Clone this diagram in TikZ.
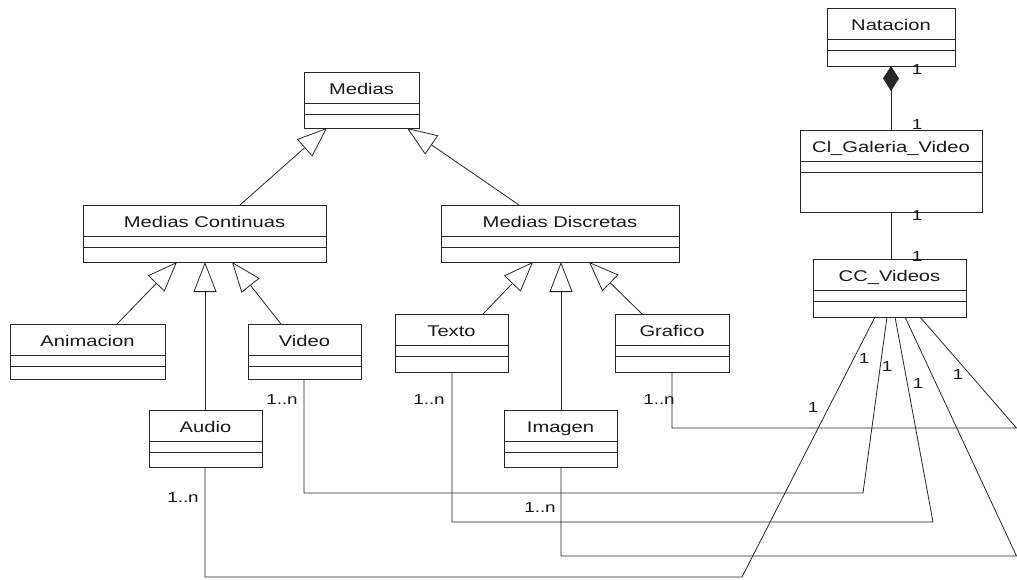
\documentclass[tikz,border=0pt]{standalone}
\usepackage{fontspec}
\setmainfont{Liberation Sans}[FakeStretch=1.3]
\usetikzlibrary{calc,arrows.meta}
\newcommand{\umlcls}[6]{%
  \node[clsbox, minimum width=#4pt, minimum height=#5pt, anchor=north west] (#1) at (#2,#3) {};
  \node[clsname, anchor=base] (#1-n) at ($(#1.north)+(0,22.5)$) {#6};
  \draw[sepline] ($(#1.north west)+(0,31)$) -- ($(#1.north east)+(0,31)$);
  \draw[sepline] ($(#1.north west)+(0,42)$) -- ($(#1.north east)+(0,42)$);
}
\begin{document}
\begin{tikzpicture}[x=1pt,y=-1pt,
  clsbox/.style={draw=black!85, line width=0.9pt, inner sep=0pt, outer sep=0pt, fill=white},
  clsname/.style={inner sep=0pt, text=black!90, font=\fontsize{15.5}{18}\selectfont},
  sepline/.style={draw=black!85, line width=0.9pt},
  gen/.style={draw=black!85, line width=0.8pt, -{Triangle[open, length=30pt, width=23pt, line width=0.8pt]}},
  assoc/.style={draw=black!85, line width=0.8pt},
  comp/.style={draw=black!85, line width=0.8pt, {Diamond[length=25pt, width=16pt]}-},
  mult/.style={inner sep=0pt, text=black!90, font=\fontsize{14.5}{16}\selectfont}]
\useasboundingbox[fill=white] (0,0) rectangle (1017,580);

% classes
\umlcls{medias}{304}{72}{115}{56}{Medias}
\umlcls{mc}{83}{205}{243}{57}{Medias Continuas}
\umlcls{md}{441}{205}{238}{57}{Medias Discretas}
\umlcls{anim}{10}{324}{155}{55}{Animacion}
\umlcls{video}{248}{324}{113}{55}{Video}
\umlcls{audio}{149}{410}{113}{57}{Audio}
\umlcls{texto}{395}{314}{113}{58}{Texto}
\umlcls{grafico}{615}{314}{114}{58}{Grafico}
\umlcls{imagen}{504}{410}{113}{57}{Imagen}
\umlcls{natacion}{827}{8}{128}{58}{Natacion}
\umlcls{galeria}{800}{130}{182}{82}{Cl\_Galeria\_Video}
\umlcls{cc}{813}{259}{153}{58}{CC\_Videos}

% generalizations
\draw[gen] ($(mc.north west)+(157,0)$) -- ($(medias.south west)+(23,0)$);
\draw[gen] ($(md.north west)+(78,0)$) -- ($(medias.south west)+(103,0)$);
\draw[gen] ($(anim.north west)+(107,0)$) -- ($(mc.south west)+(94,0)$);
\draw[gen] ($(audio.north west)+(56,0)$) -- ($(mc.south west)+(122,0)$);
\draw[gen] ($(video.north west)+(33,0)$) -- ($(mc.south west)+(149,0)$);
\draw[gen] ($(texto.north west)+(88,0)$) -- ($(md.south west)+(92,0)$);
\draw[gen] ($(imagen.north west)+(57,0)$) -- ($(md.south west)+(120,0)$);
\draw[gen] ($(grafico.north west)+(27,0)$) -- ($(md.south west)+(148,0)$);

% composition and association at the top right
\draw[comp] (natacion.south) -- (galeria.north);
\draw[assoc] (galeria.south) -- (galeria.south |- cc.north);

% associations to CC_Videos
\coordinate (ca) at (742,577);
\coordinate (cv) at (863,493);
\coordinate (ct) at (933,522);
\coordinate (ci) at (1016.5,556);
\coordinate (cg) at (1016.5,428);
\draw[assoc] ($(audio.south west)+(56,0)$) |- (ca) -- ($(cc.south west)+(62,0)$);
\draw[assoc] ($(video.south west)+(56,0)$) |- (cv) -- ($(cc.south west)+(74,0)$);
\draw[assoc] ($(texto.south west)+(57,0)$) |- (ct) -- ($(cc.south west)+(82,0)$);
\draw[assoc] ($(imagen.south west)+(57,0)$) |- (ci) -- ($(cc.south west)+(92,0)$);
\draw[assoc] ($(grafico.south west)+(57,0)$) |- (cg) -- ($(cc.south west)+(107,0)$);

% multiplicities
\node[mult] (m1) at (917,70) {1};
\node[mult] (m2) at (917,125) {1};
\node[mult] (m3) at (917,216) {1};
\node[mult] (m4) at (917,257) {1};
\node[mult] (m5) at (282,400) {1..n};
\node[mult] (m6) at (183,498) {1..n};
\node[mult] (m7) at (429,400) {1..n};
\node[mult] (m8) at (659,400) {1..n};
\node[mult] (m9) at (540,508) {1..n};
\node[mult] (m10) at (864,359) {1};
\node[mult] (m11) at (887,367) {1};
\node[mult] (m12) at (918,384) {1};
\node[mult] (m13) at (958,375) {1};
\node[mult] (m14) at (813,408) {1};
\end{tikzpicture}
\end{document}
